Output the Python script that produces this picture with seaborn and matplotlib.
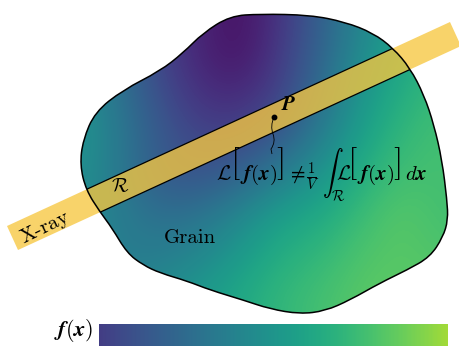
import numpy as np
import matplotlib
matplotlib.use("Agg")
import matplotlib.pyplot as plt
from matplotlib.path import Path
from matplotlib.patches import PathPatch, Polygon
import seaborn as sns

# grain outline (pixel coords, y downwards)
grain_x = [230, 260, 310, 345, 373, 393, 410, 424, 434, 442, 447, 448, 443, 430, 407, 380,
           350, 325, 300, 270, 243, 210, 187, 160, 143, 127, 112, 100, 86, 80, 83, 95,
           123, 160, 183, 203]
grain_y = [16, 14, 15, 22, 33, 48, 68, 95, 125, 160, 200, 220, 237, 257, 270, 283,
           300, 311, 314, 309, 300, 290, 281, 273, 265, 253, 228, 212, 190, 165, 140, 112,
           90, 71, 53, 33]

# f(x) sampled on a coarse grid (0 = dark purple, 1 = yellow)
field_x = [80, 120, 160, 200, 240, 280, 320, 360, 400, 440]
field_y = [15, 55, 95, 135, 175, 215, 255, 295]
field = [
    [0.45, 0.35, 0.20, 0.10, 0.04, 0.15, 0.30, 0.45, 0.55, 0.62],
    [0.48, 0.35, 0.20, 0.10, 0.05, 0.17, 0.32, 0.48, 0.58, 0.65],
    [0.50, 0.38, 0.24, 0.14, 0.12, 0.20, 0.36, 0.52, 0.62, 0.68],
    [0.52, 0.40, 0.28, 0.20, 0.20, 0.28, 0.42, 0.56, 0.66, 0.70],
    [0.50, 0.40, 0.28, 0.26, 0.32, 0.42, 0.52, 0.62, 0.70, 0.70],
    [0.48, 0.42, 0.36, 0.38, 0.46, 0.56, 0.60, 0.68, 0.74, 0.70],
    [0.46, 0.42, 0.42, 0.46, 0.54, 0.62, 0.66, 0.72, 0.74, 0.72],
    [0.46, 0.44, 0.48, 0.54, 0.60, 0.66, 0.70, 0.74, 0.75, 0.74],
]
cbar_range = [0.18, 0.86]

# x-ray band: corners of the strip
band_x = [7, 450, 461, 18]
band_y = [226, 22, 46, 250]


def smooth_closed(xs, ys):
    pts = np.column_stack([xs, ys]).astype(float)
    n = len(pts)
    mids = (pts + np.roll(pts, -1, axis=0)) / 2
    verts = [mids[-1]]
    codes = [Path.MOVETO]
    for i in range(n):
        verts += [pts[i], mids[i]]
        codes += [Path.CURVE3, Path.CURVE3]
    return Path(verts, codes)


sns.set_theme(style="white")
plt.rcParams["mathtext.fontset"] = "cm"
plt.rcParams["text.color"] = "black"
cmap = sns.color_palette("viridis", as_cmap=True)

fig = plt.figure(figsize=(4.59, 3.46), dpi=100)
ax = fig.add_axes([0, 0, 1, 1])
ax.set_xlim(0, 459)
ax.set_ylim(346, 0)
ax.axis("off")

grain_path = smooth_closed(grain_x, grain_y)
clip = PathPatch(grain_path, facecolor="none", edgecolor="none")
ax.add_patch(clip)

dx = field_x[1] - field_x[0]
dy = field_y[1] - field_y[0]
img = ax.imshow(field, cmap=cmap, vmin=0, vmax=1, interpolation="bicubic",
                extent=(field_x[0] - dx / 2, field_x[-1] + dx / 2,
                        field_y[-1] + dy / 2, field_y[0] - dy / 2),
                aspect="auto", zorder=1)
img.set_clip_path(clip)

band = Polygon(np.column_stack([band_x, band_y]), closed=True,
               facecolor=(0.97, 0.78, 0.25), alpha=0.78, edgecolor="none", zorder=2)
ax.add_patch(band)
for a, b in [(0, 1), (3, 2)]:
    ln, = ax.plot([band_x[a], band_x[b]], [band_y[a], band_y[b]], color="black",
                  lw=0.9, zorder=3)
    ln.set_clip_path(clip)

ax.add_patch(PathPatch(grain_path, facecolor="none", edgecolor="black", lw=1.1, zorder=4))

# point P and its leader
ax.plot([274], [117], "o", color="black", ms=3.2, zorder=5)
sq = Path([(274, 117), (270, 126), (273, 134), (276, 142), (271, 149), (272, 154)],
          [Path.MOVETO, Path.CURVE3, Path.CURVE3, Path.CURVE3, Path.CURVE3, Path.LINETO])
ax.add_patch(PathPatch(sq, facecolor="none", edgecolor="black", lw=0.6, zorder=5))
ax.text(281, 104, r"$\boldsymbol{P}$", fontsize=15, ha="left", va="center", zorder=6)

# the relation, set piece by piece so the brackets can be large
base = 180
pieces = [
    (216, base, r"$\mathcal{L}$", 15, "baseline", "left"),
    (230, 164, r"$[$", 24, "center", "left"),
    (240, base, r"$\boldsymbol{f(x)}$", 15, "baseline", "left"),
    (276, 164, r"$]$", 24, "center", "left"),
    (287, base, r"$\neq$", 15, "baseline", "left"),
    (313, 177, r"$\frac{1}{V}$", 15, "center", "center"),
    (322, base, r"$\int_{\mathcal{R}}$", 15, "baseline", "left"),
    (336, base, r"$\mathcal{L}$", 15, "baseline", "left"),
    (347, 164, r"$[$", 24, "center", "left"),
    (357, base, r"$\boldsymbol{f(x)}$", 15, "baseline", "left"),
    (393, 164, r"$]$", 24, "center", "left"),
    (405, base, r"$d\boldsymbol{x}$", 15, "baseline", "left"),
]
for px, py, s, fs, va, ha in pieces:
    ax.text(px, py, s, fontsize=fs, ha=ha, va=va, zorder=6)

ax.text(120, 187, r"$\mathcal{R}$", fontsize=14, ha="center", va="center", zorder=6)
ax.text(45, 227, "X-ray", family="cmr10", fontsize=15, rotation=26,
        ha="center", va="center", rotation_mode="anchor", zorder=6)
ax.text(190, 238, "Grain", family="cmr10", fontsize=15, ha="center", va="center", zorder=6)

# colour bar
grad = np.linspace(cbar_range[0], cbar_range[1], 256)[None, :]
ax.imshow(grad, cmap=cmap, vmin=0, vmax=1, extent=(99, 448, 346, 324),
          aspect="auto", zorder=1)
ax.text(74, 331, r"$\boldsymbol{f(x)}$", fontsize=16, ha="center", va="center")

fig.savefig("out.png", dpi=100)
